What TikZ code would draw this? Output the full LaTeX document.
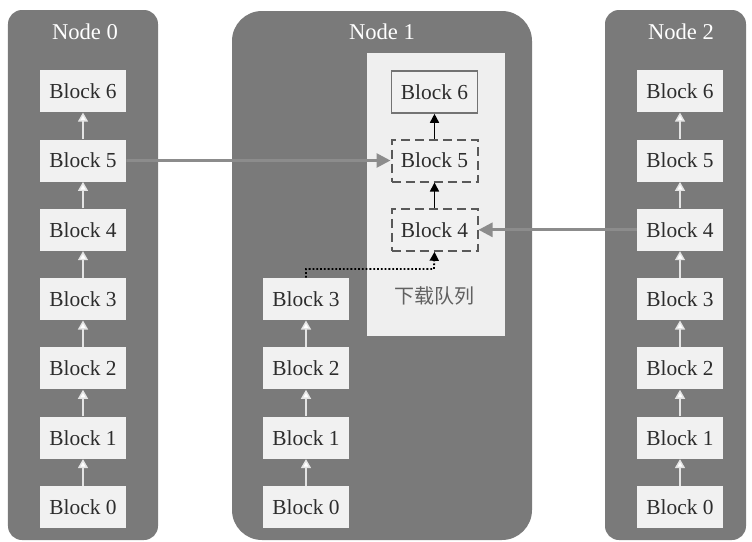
\documentclass[tikz,border=0pt]{standalone}
\usepackage{fontspec}
\setmainfont{Liberation Serif}
\newfontfamily\seriffont{Liberation Serif}
\newfontfamily\cjk{Noto Sans CJK SC}
\usepackage{tikz}
\usetikzlibrary{arrows.meta}

\definecolor{panelgray}{RGB}{122,122,122}
\definecolor{blockfill}{RGB}{241,241,241}
\definecolor{queuefill}{RGB}{239,239,239}
\definecolor{textgray}{RGB}{45,45,45}
\definecolor{linkgray}{RGB}{140,140,140}

\tikzset{
  panel/.style={fill=panelgray, draw=none},
  title/.style={text=white, font=\seriffont\fontsize{11.3}{13}\selectfont},
  blockbox/.style={fill=blockfill, draw=none, minimum width=43pt, minimum height=21pt,
    inner sep=0pt, text=textgray, font=\seriffont\fontsize{10.7}{12}\selectfont},
  queuebox/.style={blockbox, draw=black!65, line width=1pt, dash pattern=on 4.5pt off 2.5pt},
  stackarrow/.style={draw=white!80!panelgray, line width=0.7pt,
    -{Triangle[length=4.5pt, width=5pt, fill=white]}},
  queuearrow/.style={draw=black, line width=0.8pt, -{Triangle[length=4.5pt, width=4.5pt]}},
  linkarrow/.style={draw=linkgray, line width=1.4pt, -{Triangle[length=7pt, width=7pt]}}
}

\begin{document}
\begin{tikzpicture}[x=0.5pt, y=-0.5pt]
  \useasboundingbox (0,0) rectangle (752,542);

  % the three panels
  \fill[panel, rounded corners=7pt] (8,10) rectangle (158,540);
  \fill[panel, rounded corners=15pt] (232,11) rectangle (532,540);
  \fill[panel, rounded corners=7pt] (605,10) rectangle (746,540);
  \node[title](t0) at (85,32){Node 0};
  \node[title](t1) at (382,32){Node 1};
  \node[title](t2) at (681,32){Node 2};

  % Node 0 chain
  \foreach \i [evaluate=\i as \y using 507-69.3*\i] in {0,...,6}
    \node[blockbox](n0b\i) at (83,\y){Block \i};
  \foreach \i [count=\j from 1] in {0,...,5}
    \draw[stackarrow] (n0b\i) -- (n0b\j);

  % Node 1 chain
  \foreach \i [evaluate=\i as \y using 507-69.3*\i] in {0,...,3}
    \node[blockbox](n1b\i) at (306,\y){Block \i};
  \foreach \i [count=\j from 1] in {0,...,2}
    \draw[stackarrow] (n1b\i) -- (n1b\j);

  % download queue
  \fill[queuefill] (367,53) rectangle (505,336);
  \node[queuebox](q4) at (434.5,229.8){Block 4};
  \node[queuebox](q5) at (434.5,160.5){Block 5};
  \node[blockbox, draw=black!55, line width=0.8pt](q6) at (434.5,92){Block 6};
  \node[text=black!62, font=\cjk\fontsize{10}{12}\selectfont](queue) at (434,296){下载队列};
  \draw[queuearrow] (q4) -- (q5);
  \draw[queuearrow] (q5) -- (q6);
  \coordinate (bend) at (434,269);
  \draw[black, line width=0.9pt, densely dotted, -{Triangle[length=4.5pt, width=4.5pt]}]
    (n1b3.north) |- (bend) -- (q4.south);

  % Node 2 chain
  \foreach \i [evaluate=\i as \y using 507-69.3*\i] in {0,...,6}
    \node[blockbox](n2b\i) at (680,\y){Block \i};
  \foreach \i [count=\j from 1] in {0,...,5}
    \draw[stackarrow] (n2b\i) -- (n2b\j);

  % fetched blocks
  \draw[linkarrow] (n0b5.east) -- (q5.west);
  \draw[linkarrow] (n2b4.west) -- (q4.east);
\end{tikzpicture}
\end{document}
